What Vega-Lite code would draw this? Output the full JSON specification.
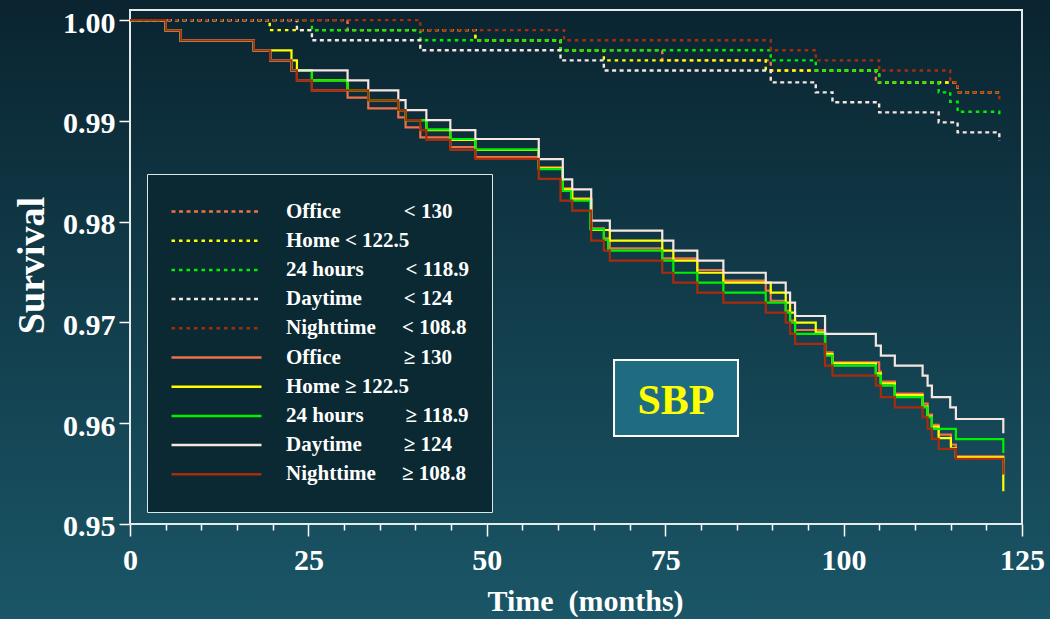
{
  "$schema": "https://vega.github.io/schema/vega-lite/v6.json",
  "width": 1050,
  "height": 619,
  "padding": 0,
  "autosize": {"type": "none"},
  "background": "#123e4c",
  "config": {
    "font": "Liberation Serif",
    "view": {
      "fill": {"gradient": "linear", "x1": 0, "y1": 0, "x2": 0, "y2": 1,
        "stops": [{"offset": 0, "color": "#0a2430"}, {"offset": 1, "color": "#1a5667"}]},
      "stroke": null
    }
  },
  "datasets": {
    "below": [
      {"k": "Office <130", "t": 0, "s": 1}, {"k": "Office <130", "t": 30.49, "s": 0.999}, {"k": "Office <130", "t": 48.4, "s": 0.998}, {"k": "Office <130", "t": 60.33, "s": 0.997}, {"k": "Office <130", "t": 74.59, "s": 0.996}, {"k": "Office <130", "t": 89.79, "s": 0.995}, {"k": "Office <130", "t": 104.52, "s": 0.9938}, {"k": "Office <130", "t": 115.98, "s": 0.99283}, {"k": "Office <130", "t": 121.82, "s": 0.99283},
      {"k": "Home <122.5", "t": 0, "s": 1}, {"k": "Home <122.5", "t": 19.58, "s": 0.999}, {"k": "Home <122.5", "t": 48.4, "s": 0.998}, {"k": "Home <122.5", "t": 60.33, "s": 0.997}, {"k": "Home <122.5", "t": 66.4, "s": 0.996}, {"k": "Home <122.5", "t": 89.09, "s": 0.995}, {"k": "Home <122.5", "t": 104.98, "s": 0.9938}, {"k": "Home <122.5", "t": 115.98, "s": 0.99283}, {"k": "Home <122.5", "t": 121.82, "s": 0.99283},
      {"k": "24 hours <118.9", "t": 0, "s": 1}, {"k": "24 hours <118.9", "t": 25.49, "s": 0.999}, {"k": "24 hours <118.9", "t": 40.68, "s": 0.998}, {"k": "24 hours <118.9", "t": 60.33, "s": 0.997}, {"k": "24 hours <118.9", "t": 89.79, "s": 0.996}, {"k": "24 hours <118.9", "t": 96.1, "s": 0.995}, {"k": "24 hours <118.9", "t": 104.98, "s": 0.99382}, {"k": "24 hours <118.9", "t": 113.32, "s": 0.99283}, {"k": "24 hours <118.9", "t": 114.94, "s": 0.9919}, {"k": "24 hours <118.9", "t": 115.98, "s": 0.9909}, {"k": "24 hours <118.9", "t": 121.82, "s": 0.99025},
      {"k": "Daytime <124", "t": 0, "s": 1}, {"k": "Daytime <124", "t": 23.39, "s": 0.999}, {"k": "Daytime <124", "t": 25.49, "s": 0.998}, {"k": "Daytime <124", "t": 40.68, "s": 0.997}, {"k": "Daytime <124", "t": 60.33, "s": 0.996}, {"k": "Daytime <124", "t": 66.4, "s": 0.995}, {"k": "Daytime <124", "t": 89.79, "s": 0.99382}, {"k": "Daytime <124", "t": 96.1, "s": 0.99283}, {"k": "Daytime <124", "t": 98.44, "s": 0.99184}, {"k": "Daytime <124", "t": 104.98, "s": 0.99084}, {"k": "Daytime <124", "t": 113.32, "s": 0.98985}, {"k": "Daytime <124", "t": 115.98, "s": 0.98886}, {"k": "Daytime <124", "t": 121.82, "s": 0.988},
      {"k": "Nighttime <108.8", "t": 0, "s": 1}, {"k": "Nighttime <108.8", "t": 40.68, "s": 0.999}, {"k": "Nighttime <108.8", "t": 60.83, "s": 0.998}, {"k": "Nighttime <108.8", "t": 89.79, "s": 0.997}, {"k": "Nighttime <108.8", "t": 96.1, "s": 0.996}, {"k": "Nighttime <108.8", "t": 104.98, "s": 0.995}, {"k": "Nighttime <108.8", "t": 114.94, "s": 0.99382}, {"k": "Nighttime <108.8", "t": 115.98, "s": 0.99283}, {"k": "Nighttime <108.8", "t": 121.82, "s": 0.99174}
    ],
    "above": [
      {"k": "Office \u2265130", "t": 0, "s": 1}, {"k": "Office \u2265130", "t": 5.01, "s": 0.99898}, {"k": "Office \u2265130", "t": 7.11, "s": 0.99799}, {"k": "Office \u2265130", "t": 17.35, "s": 0.997}, {"k": "Office \u2265130", "t": 19.64, "s": 0.996}, {"k": "Office \u2265130", "t": 22.63, "s": 0.995}, {"k": "Office \u2265130", "t": 23.39, "s": 0.99402}, {"k": "Office \u2265130", "t": 25.49, "s": 0.99303}, {"k": "Office \u2265130", "t": 30.49, "s": 0.9923}, {"k": "Office \u2265130", "t": 33.39, "s": 0.99124}, {"k": "Office \u2265130", "t": 37.6, "s": 0.99035}, {"k": "Office \u2265130", "t": 38.62, "s": 0.98936}, {"k": "Office \u2265130", "t": 40.68, "s": 0.98837}, {"k": "Office \u2265130", "t": 44.89, "s": 0.9874}, {"k": "Office \u2265130", "t": 48.4, "s": 0.9864}, {"k": "Office \u2265130", "t": 57.28, "s": 0.98539}, {"k": "Office \u2265130", "t": 60.65, "s": 0.9833}, {"k": "Office \u2265130", "t": 61.97, "s": 0.98231}, {"k": "Office \u2265130", "t": 64.63, "s": 0.97934}, {"k": "Office \u2265130", "t": 66.4, "s": 0.97834}, {"k": "Office \u2265130", "t": 67.24, "s": 0.97735}, {"k": "Office \u2265130", "t": 74.59, "s": 0.97636}, {"k": "Office \u2265130", "t": 79.5, "s": 0.9752}, {"k": "Office \u2265130", "t": 83.15, "s": 0.97414}, {"k": "Office \u2265130", "t": 89.09, "s": 0.97315}, {"k": "Office \u2265130", "t": 89.79, "s": 0.97215}, {"k": "Office \u2265130", "t": 91.89, "s": 0.97116}, {"k": "Office \u2265130", "t": 92.5, "s": 0.97017}, {"k": "Office \u2265130", "t": 93.2, "s": 0.96925}, {"k": "Office \u2265130", "t": 97.4, "s": 0.96704}, {"k": "Office \u2265130", "t": 98.44, "s": 0.96605}, {"k": "Office \u2265130", "t": 104.98, "s": 0.96513}, {"k": "Office \u2265130", "t": 105.22, "s": 0.96414}, {"k": "Office \u2265130", "t": 107.18, "s": 0.96293}, {"k": "Office \u2265130", "t": 111.07, "s": 0.96194}, {"k": "Office \u2265130", "t": 111.77, "s": 0.96085}, {"k": "Office \u2265130", "t": 112.37, "s": 0.95985}, {"k": "Office \u2265130", "t": 113.32, "s": 0.95886}, {"k": "Office \u2265130", "t": 115.04, "s": 0.95787}, {"k": "Office \u2265130", "t": 115.74, "s": 0.95671}, {"k": "Office \u2265130", "t": 122.38, "s": 0.956},
      {"k": "Home \u2265122.5", "t": 0, "s": 1}, {"k": "Home \u2265122.5", "t": 5.01, "s": 0.99898}, {"k": "Home \u2265122.5", "t": 7.11, "s": 0.99799}, {"k": "Home \u2265122.5", "t": 17.35, "s": 0.997}, {"k": "Home \u2265122.5", "t": 22.63, "s": 0.996}, {"k": "Home \u2265122.5", "t": 23.39, "s": 0.995}, {"k": "Home \u2265122.5", "t": 25.49, "s": 0.99402}, {"k": "Home \u2265122.5", "t": 30.49, "s": 0.99303}, {"k": "Home \u2265122.5", "t": 33.39, "s": 0.99204}, {"k": "Home \u2265122.5", "t": 37.6, "s": 0.99107}, {"k": "Home \u2265122.5", "t": 38.62, "s": 0.99008}, {"k": "Home \u2265122.5", "t": 41.53, "s": 0.98909}, {"k": "Home \u2265122.5", "t": 44.89, "s": 0.9881}, {"k": "Home \u2265122.5", "t": 48.4, "s": 0.98711}, {"k": "Home \u2265122.5", "t": 57.28, "s": 0.9853}, {"k": "Home \u2265122.5", "t": 60.65, "s": 0.9832}, {"k": "Home \u2265122.5", "t": 61.97, "s": 0.98221}, {"k": "Home \u2265122.5", "t": 64.63, "s": 0.97917}, {"k": "Home \u2265122.5", "t": 67.24, "s": 0.97811}, {"k": "Home \u2265122.5", "t": 74.59, "s": 0.97712}, {"k": "Home \u2265122.5", "t": 76.14, "s": 0.97613}, {"k": "Home \u2265122.5", "t": 79.5, "s": 0.97493}, {"k": "Home \u2265122.5", "t": 83.15, "s": 0.97394}, {"k": "Home \u2265122.5", "t": 89.79, "s": 0.97295}, {"k": "Home \u2265122.5", "t": 91.89, "s": 0.97196}, {"k": "Home \u2265122.5", "t": 92.5, "s": 0.97097}, {"k": "Home \u2265122.5", "t": 93.2, "s": 0.96998}, {"k": "Home \u2265122.5", "t": 96.1, "s": 0.96902}, {"k": "Home \u2265122.5", "t": 97.4, "s": 0.96687}, {"k": "Home \u2265122.5", "t": 98.44, "s": 0.96595}, {"k": "Home \u2265122.5", "t": 104.52, "s": 0.96495}, {"k": "Home \u2265122.5", "t": 105.22, "s": 0.96396}, {"k": "Home \u2265122.5", "t": 107.18, "s": 0.9628}, {"k": "Home \u2265122.5", "t": 111.07, "s": 0.96164}, {"k": "Home \u2265122.5", "t": 111.77, "s": 0.96065}, {"k": "Home \u2265122.5", "t": 112.37, "s": 0.95966}, {"k": "Home \u2265122.5", "t": 113.32, "s": 0.95853}, {"k": "Home \u2265122.5", "t": 115.04, "s": 0.95753}, {"k": "Home \u2265122.5", "t": 115.74, "s": 0.95662}, {"k": "Home \u2265122.5", "t": 122.38, "s": 0.95324},
      {"k": "24 hours \u2265118.9", "t": 0, "s": 1}, {"k": "24 hours \u2265118.9", "t": 5.01, "s": 0.99898}, {"k": "24 hours \u2265118.9", "t": 7.11, "s": 0.99799}, {"k": "24 hours \u2265118.9", "t": 17.35, "s": 0.997}, {"k": "24 hours \u2265118.9", "t": 19.64, "s": 0.996}, {"k": "24 hours \u2265118.9", "t": 22.63, "s": 0.995}, {"k": "24 hours \u2265118.9", "t": 25.49, "s": 0.99402}, {"k": "24 hours \u2265118.9", "t": 30.49, "s": 0.99303}, {"k": "24 hours \u2265118.9", "t": 33.39, "s": 0.99204}, {"k": "24 hours \u2265118.9", "t": 37.6, "s": 0.99107}, {"k": "24 hours \u2265118.9", "t": 38.62, "s": 0.99008}, {"k": "24 hours \u2265118.9", "t": 41.53, "s": 0.98916}, {"k": "24 hours \u2265118.9", "t": 44.89, "s": 0.9882}, {"k": "24 hours \u2265118.9", "t": 48.4, "s": 0.98717}, {"k": "24 hours \u2265118.9", "t": 57.28, "s": 0.98522}, {"k": "24 hours \u2265118.9", "t": 60.65, "s": 0.98304}, {"k": "24 hours \u2265118.9", "t": 61.8, "s": 0.98209}, {"k": "24 hours \u2265118.9", "t": 64.5, "s": 0.97925}, {"k": "24 hours \u2265118.9", "t": 66.4, "s": 0.97818}, {"k": "24 hours \u2265118.9", "t": 67.0, "s": 0.97712}, {"k": "24 hours \u2265118.9", "t": 74.59, "s": 0.97613}, {"k": "24 hours \u2265118.9", "t": 76.14, "s": 0.97493}, {"k": "24 hours \u2265118.9", "t": 79.5, "s": 0.97394}, {"k": "24 hours \u2265118.9", "t": 83.15, "s": 0.97295}, {"k": "24 hours \u2265118.9", "t": 89.09, "s": 0.97196}, {"k": "24 hours \u2265118.9", "t": 91.89, "s": 0.97097}, {"k": "24 hours \u2265118.9", "t": 92.5, "s": 0.96998}, {"k": "24 hours \u2265118.9", "t": 93.2, "s": 0.96887}, {"k": "24 hours \u2265118.9", "t": 97.4, "s": 0.9667}, {"k": "24 hours \u2265118.9", "t": 98.44, "s": 0.96571}, {"k": "24 hours \u2265118.9", "t": 104.52, "s": 0.96472}, {"k": "24 hours \u2265118.9", "t": 105.22, "s": 0.96373}, {"k": "24 hours \u2265118.9", "t": 107.18, "s": 0.96258}, {"k": "24 hours \u2265118.9", "t": 111.07, "s": 0.96158}, {"k": "24 hours \u2265118.9", "t": 111.77, "s": 0.96059}, {"k": "24 hours \u2265118.9", "t": 112.37, "s": 0.95944}, {"k": "24 hours \u2265118.9", "t": 115.74, "s": 0.95843}, {"k": "24 hours \u2265118.9", "t": 122.38, "s": 0.95704},
      {"k": "Daytime \u2265124", "t": 0, "s": 1}, {"k": "Daytime \u2265124", "t": 5.01, "s": 0.99898}, {"k": "Daytime \u2265124", "t": 7.11, "s": 0.99799}, {"k": "Daytime \u2265124", "t": 17.35, "s": 0.997}, {"k": "Daytime \u2265124", "t": 19.64, "s": 0.996}, {"k": "Daytime \u2265124", "t": 22.63, "s": 0.995}, {"k": "Daytime \u2265124", "t": 30.49, "s": 0.99402}, {"k": "Daytime \u2265124", "t": 33.39, "s": 0.99303}, {"k": "Daytime \u2265124", "t": 37.6, "s": 0.99206}, {"k": "Daytime \u2265124", "t": 38.62, "s": 0.99107}, {"k": "Daytime \u2265124", "t": 41.53, "s": 0.99008}, {"k": "Daytime \u2265124", "t": 44.89, "s": 0.98909}, {"k": "Daytime \u2265124", "t": 48.4, "s": 0.9882}, {"k": "Daytime \u2265124", "t": 57.28, "s": 0.98621}, {"k": "Daytime \u2265124", "t": 60.65, "s": 0.9842}, {"k": "Daytime \u2265124", "t": 61.97, "s": 0.98321}, {"k": "Daytime \u2265124", "t": 64.63, "s": 0.9801}, {"k": "Daytime \u2265124", "t": 67.24, "s": 0.9791}, {"k": "Daytime \u2265124", "t": 74.59, "s": 0.97811}, {"k": "Daytime \u2265124", "t": 76.14, "s": 0.97712}, {"k": "Daytime \u2265124", "t": 79.5, "s": 0.97613}, {"k": "Daytime \u2265124", "t": 83.15, "s": 0.97493}, {"k": "Daytime \u2265124", "t": 89.09, "s": 0.97394}, {"k": "Daytime \u2265124", "t": 91.89, "s": 0.97295}, {"k": "Daytime \u2265124", "t": 92.5, "s": 0.97196}, {"k": "Daytime \u2265124", "t": 93.2, "s": 0.97064}, {"k": "Daytime \u2265124", "t": 97.4, "s": 0.96887}, {"k": "Daytime \u2265124", "t": 104.52, "s": 0.96769}, {"k": "Daytime \u2265124", "t": 105.22, "s": 0.9667}, {"k": "Daytime \u2265124", "t": 107.18, "s": 0.96571}, {"k": "Daytime \u2265124", "t": 111.07, "s": 0.96472}, {"k": "Daytime \u2265124", "t": 111.77, "s": 0.96373}, {"k": "Daytime \u2265124", "t": 112.37, "s": 0.96258}, {"k": "Daytime \u2265124", "t": 114.94, "s": 0.96158}, {"k": "Daytime \u2265124", "t": 115.74, "s": 0.96042}, {"k": "Daytime \u2265124", "t": 122.38, "s": 0.959},
      {"k": "Nighttime \u2265108.8", "t": 0, "s": 1}, {"k": "Nighttime \u2265108.8", "t": 5.01, "s": 0.99898}, {"k": "Nighttime \u2265108.8", "t": 7.11, "s": 0.99799}, {"k": "Nighttime \u2265108.8", "t": 17.35, "s": 0.997}, {"k": "Nighttime \u2265108.8", "t": 19.64, "s": 0.996}, {"k": "Nighttime \u2265108.8", "t": 22.63, "s": 0.995}, {"k": "Nighttime \u2265108.8", "t": 23.39, "s": 0.99402}, {"k": "Nighttime \u2265108.8", "t": 25.49, "s": 0.99303}, {"k": "Nighttime \u2265108.8", "t": 33.39, "s": 0.99204}, {"k": "Nighttime \u2265108.8", "t": 37.6, "s": 0.99107}, {"k": "Nighttime \u2265108.8", "t": 38.62, "s": 0.99008}, {"k": "Nighttime \u2265108.8", "t": 40.68, "s": 0.98909}, {"k": "Nighttime \u2265108.8", "t": 41.53, "s": 0.9881}, {"k": "Nighttime \u2265108.8", "t": 44.89, "s": 0.98711}, {"k": "Nighttime \u2265108.8", "t": 48.4, "s": 0.98622}, {"k": "Nighttime \u2265108.8", "t": 57.28, "s": 0.98424}, {"k": "Nighttime \u2265108.8", "t": 60.33, "s": 0.98209}, {"k": "Nighttime \u2265108.8", "t": 61.97, "s": 0.9811}, {"k": "Nighttime \u2265108.8", "t": 64.63, "s": 0.97811}, {"k": "Nighttime \u2265108.8", "t": 66.4, "s": 0.97712}, {"k": "Nighttime \u2265108.8", "t": 67.24, "s": 0.97613}, {"k": "Nighttime \u2265108.8", "t": 74.59, "s": 0.97493}, {"k": "Nighttime \u2265108.8", "t": 76.14, "s": 0.97394}, {"k": "Nighttime \u2265108.8", "t": 79.5, "s": 0.97295}, {"k": "Nighttime \u2265108.8", "t": 83.15, "s": 0.97196}, {"k": "Nighttime \u2265108.8", "t": 89.09, "s": 0.97097}, {"k": "Nighttime \u2265108.8", "t": 91.89, "s": 0.96998}, {"k": "Nighttime \u2265108.8", "t": 92.5, "s": 0.96887}, {"k": "Nighttime \u2265108.8", "t": 93.2, "s": 0.96788}, {"k": "Nighttime \u2265108.8", "t": 97.4, "s": 0.96571}, {"k": "Nighttime \u2265108.8", "t": 98.44, "s": 0.96472}, {"k": "Nighttime \u2265108.8", "t": 104.52, "s": 0.96373}, {"k": "Nighttime \u2265108.8", "t": 105.22, "s": 0.96258}, {"k": "Nighttime \u2265108.8", "t": 107.18, "s": 0.96158}, {"k": "Nighttime \u2265108.8", "t": 111.07, "s": 0.96059}, {"k": "Nighttime \u2265108.8", "t": 111.77, "s": 0.95944}, {"k": "Nighttime \u2265108.8", "t": 112.37, "s": 0.95845}, {"k": "Nighttime \u2265108.8", "t": 113.32, "s": 0.95745}, {"k": "Nighttime \u2265108.8", "t": 115.74, "s": 0.95646}, {"k": "Nighttime \u2265108.8", "t": 122.38, "s": 0.9549}
    ]
  },
  "resolve": {"axis": {"x": "independent"}},
  "layer": [
    {
      "description": "Plot frame around the data rectangle; carries the survival axis",
      "data": {"values": [{}]},
      "mark": {"type": "rect", "filled": false, "stroke": "#e4ebeb", "strokeWidth": 2},
      "encoding": {
        "x": {"datum": 0, "type": "quantitative", "scale": {"domain": [-18.2175, 128.9238], "nice": false, "zero": false}, "axis": null},
        "x2": {"datum": 125},
        "y": {"datum": 0.95, "type": "quantitative", "scale": {"domain": [0.9405739, 1.0019922], "nice": false, "zero": false},
          "axis": {"orient": "left", "offset": -130, "values": [0.95, 0.96, 0.97, 0.98, 0.99, 1.0], "format": ".2f", "domain": false, "grid": false,
            "tickSize": 11, "tickWidth": 1.5, "tickColor": "#ffffff",
            "labelFont": "Liberation Serif", "labelFontSize": 30, "labelFontWeight": "bold", "labelColor": "#ffffff", "labelBaseline": "alphabetic", "labelOffset": 12, "labelPadding": 4, "labelFlush": false, "labelOverlap": false,
            "title": "Survival", "titleFont": "Liberation Serif", "titleFontSize": 38, "titleFontWeight": "bold", "titleColor": "#ffffff", "titleAngle": -90, "titleX": -87, "titleY": 265, "titleAlign": "center", "titleBaseline": "alphabetic"}},
        "y2": {"datum": 1.001}
      }
    },
    {
      "description": "Below-threshold groups, dotted",
      "data": {"name": "below"},
      "mark": {"type": "line", "interpolate": "step-after", "strokeWidth": 2.4},
      "encoding": {
        "x": {"field": "t", "type": "quantitative", "scale": {"domain": [-18.2175, 128.9238], "nice": false, "zero": false},
          "axis": {"orient": "bottom", "offset": -95, "values": [5, 10, 15, 20, 30, 35, 40, 45, 55, 60, 65, 70, 80, 85, 90, 95, 105, 110, 115, 120],
            "domain": false, "grid": false, "labels": false, "title": null, "tickSize": 6, "tickWidth": 1.5, "tickColor": "#ffffff"}},
        "y": {"field": "s", "type": "quantitative", "scale": {"domain": [0.9405739, 1.0019922], "nice": false, "zero": false}},
        "color": {"field": "k", "type": "nominal",
          "scale": {"domain": ["Office <130", "Home <122.5", "24 hours <118.9", "Daytime <124", "Nighttime <108.8", "Office \u2265130", "Home \u2265122.5", "24 hours \u2265118.9", "Daytime \u2265124", "Nighttime \u2265108.8"],
            "range": ["#f07048", "#ffff00", "#00f000", "#f6e6e0", "#a82c0c", "#f07048", "#ffff00", "#00f000", "#f6e6e0", "#a82c0c"]},
          "legend": {"title": null, "orient": "none", "legendX": 147, "legendY": 174, "symbolType": "stroke", "symbolSize": 8100, "symbolStrokeWidth": 2.5, "clipHeight": 29, "rowPadding": 0.2, "padding": 23, "labelOffset": 23, "labelFont": "Liberation Serif", "labelFontSize": 21, "labelFontWeight": "bold", "labelColor": "#ffffff", "labelLimit": 400, "fillColor": "#0a2933", "strokeColor": "#dfe6e6",
            "labelExpr": "{'Office <130':'Office\u00a0\u00a0\u00a0\u00a0\u00a0\u00a0\u00a0\u00a0\u00a0\u00a0\u00a0\u00a0< 130','Home <122.5':'Home < 122.5','24 hours <118.9':'24 hours\u00a0\u00a0\u00a0\u00a0\u00a0\u00a0\u00a0\u00a0< 118.9','Daytime <124':'Daytime\u00a0\u00a0\u00a0\u00a0\u00a0\u00a0\u00a0\u00a0< 124','Nighttime <108.8':'Nighttime\u00a0\u00a0\u00a0\u00a0\u00a0< 108.8','Office \u2265130':'Office\u00a0\u00a0\u00a0\u00a0\u00a0\u00a0\u00a0\u00a0\u00a0\u00a0\u00a0\u00a0\u2265 130','Home \u2265122.5':'Home \u2265 122.5','24 hours \u2265118.9':'24 hours\u00a0\u00a0\u00a0\u00a0\u00a0\u00a0\u00a0\u00a0\u2265 118.9','Daytime \u2265124':'Daytime\u00a0\u00a0\u00a0\u00a0\u00a0\u00a0\u00a0\u00a0\u2265 124','Nighttime \u2265108.8':'Nighttime\u00a0\u00a0\u00a0\u00a0\u00a0\u2265 108.8'}[datum.label]"}},
        "strokeDash": {"field": "k", "type": "nominal",
          "scale": {"domain": ["Office <130", "Home <122.5", "24 hours <118.9", "Daytime <124", "Nighttime <108.8", "Office \u2265130", "Home \u2265122.5", "24 hours \u2265118.9", "Daytime \u2265124", "Nighttime \u2265108.8"],
            "range": [[4, 3.5], [3.5, 4], [3.5, 4], [4, 3.5], [3.5, 4], [1, 0], [1, 0], [1, 0], [1, 0], [1, 0]]}}
      }
    },
    {
      "description": "At-or-above-threshold groups, solid",
      "data": {"name": "above"},
      "mark": {"type": "line", "interpolate": "step-after", "strokeWidth": 2.2},
      "encoding": {
        "x": {"field": "t", "type": "quantitative", "scale": {"domain": [-18.2175, 128.9238], "nice": false, "zero": false},
          "axis": {"orient": "bottom", "offset": -95, "values": [0, 25, 50, 75, 100, 125], "domain": false, "grid": false,
            "tickSize": 12, "tickWidth": 1.5, "tickColor": "#ffffff",
            "labelFont": "Liberation Serif", "labelFontSize": 30, "labelFontWeight": "bold", "labelColor": "#ffffff", "labelBaseline": "alphabetic", "labelPadding": 33, "labelFlush": false, "labelOverlap": false,
            "title": "Time\u00a0\u00a0(months)", "titleFont": "Liberation Serif", "titleFontSize": 30, "titleFontWeight": "bold", "titleColor": "#ffffff", "titleX": 585, "titleY": 86, "titleAlign": "center", "titleBaseline": "alphabetic"}},
        "y": {"field": "s", "type": "quantitative", "scale": {"domain": [0.9405739, 1.0019922], "nice": false, "zero": false}},
        "color": {"field": "k", "type": "nominal",
          "scale": {"domain": ["Office <130", "Home <122.5", "24 hours <118.9", "Daytime <124", "Nighttime <108.8", "Office \u2265130", "Home \u2265122.5", "24 hours \u2265118.9", "Daytime \u2265124", "Nighttime \u2265108.8"],
            "range": ["#f07048", "#ffff00", "#00f000", "#f6e6e0", "#a82c0c", "#f07048", "#ffff00", "#00f000", "#f6e6e0", "#a82c0c"]}},
        "strokeDash": {"field": "k", "type": "nominal",
          "scale": {"domain": ["Office <130", "Home <122.5", "24 hours <118.9", "Daytime <124", "Nighttime <108.8", "Office \u2265130", "Home \u2265122.5", "24 hours \u2265118.9", "Daytime \u2265124", "Nighttime \u2265108.8"],
            "range": [[4, 3.5], [3.5, 4], [3.5, 4], [4, 3.5], [3.5, 4], [1, 0], [1, 0], [1, 0], [1, 0], [1, 0]]}}
      }
    },
    {
      "description": "Annotation box",
      "data": {"values": [{}]},
      "mark": {"type": "rect", "fill": "#1f6b82", "stroke": "#ffffff", "strokeWidth": 2},
      "encoding": {
        "x": {"datum": 67.83, "type": "quantitative", "scale": {"domain": [-18.2175, 128.9238], "nice": false, "zero": false}, "axis": null},
        "x2": {"datum": 85.2},
        "y": {"datum": 0.95873, "type": "quantitative", "scale": {"domain": [0.9405739, 1.0019922], "nice": false, "zero": false}},
        "y2": {"datum": 0.96627}
      }
    },
    {
      "description": "Annotation text",
      "data": {"values": [{}]},
      "mark": {"type": "text", "text": "SBP", "font": "Liberation Serif", "fontSize": 42, "fontWeight": "bold", "color": "#ffff00", "align": "center", "baseline": "middle"},
      "encoding": {
        "x": {"datum": 76.51, "type": "quantitative", "scale": {"domain": [-18.2175, 128.9238], "nice": false, "zero": false}, "axis": null},
        "y": {"datum": 0.9622, "type": "quantitative", "scale": {"domain": [0.9405739, 1.0019922], "nice": false, "zero": false}}
      }
    }
  ]
}
